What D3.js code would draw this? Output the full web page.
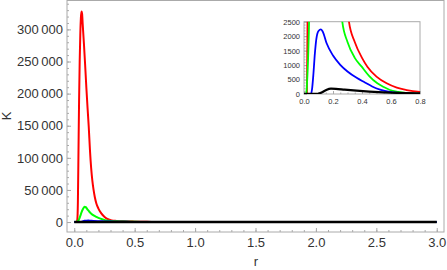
<!DOCTYPE html>
<html>
<head>
<meta charset="utf-8">
<script src="https://cdn.jsdelivr.net/npm/d3@7"></script>
<style>
  body { margin: 0; background: #fff; }
  svg { display: block; font-family: "Liberation Sans", Arial, sans-serif; }
  .axis path, .axis line { stroke: #aaa; }
  .axis text { fill: #333; }
</style>
</head>
<body>
<svg id="chart" width="447" height="270"></svg>
<script>
// r values and K values, one pair of arrays per curve
const redR   = [0, 0.02, 0.025, 0.03, 0.035, 0.04, 0.045, 0.05, 0.055, 0.06, 0.065, 0.07, 0.08, 0.09, 0.1, 0.11, 0.12, 0.13, 0.14, 0.15, 0.16, 0.17, 0.183, 0.2, 0.224, 0.245, 0.266, 0.29, 0.31, 0.35, 0.4, 0.437, 0.5, 0.57, 0.64, 0.708, 0.8, 0.9, 1.0, 1.2, 1.5, 2.0, 3.0];
const redK   = [0, 0, 3000, 30000, 110000, 190000, 250000, 292000, 318000, 328000, 324000, 308000, 278000, 245000, 210000, 178000, 148000, 112000, 84000, 64000, 50000, 39000, 29000, 21000, 13500, 9000, 5700, 3700, 2500, 1800, 1250, 945, 600, 369, 220, 138, 69, 35, 18, 5, 1, 0, 0];

const greenR = [0, 0.015, 0.02, 0.03, 0.035, 0.04, 0.05, 0.06, 0.07, 0.08, 0.086, 0.095, 0.11, 0.125, 0.141, 0.16, 0.183, 0.2, 0.238, 0.264, 0.3, 0.35, 0.398, 0.45, 0.506, 0.55, 0.593, 0.65, 0.7, 0.8, 1.0, 1.5, 3.0];
const greenK = [0, 0, 300, 1500, 2500, 4500, 9500, 15000, 19500, 22800, 23800, 23200, 19500, 16000, 13000, 10300, 8000, 6500, 3900, 2500, 1800, 1250, 945, 620, 369, 240, 138, 75, 40, 12, 2, 0, 0];

const blueR  = [0, 0.048, 0.055, 0.065, 0.075, 0.085, 0.1, 0.117, 0.13, 0.156, 0.2, 0.25, 0.3, 0.363, 0.42, 0.47, 0.524, 0.6, 0.7, 0.8, 1.0, 3.0];
const blueK  = [0, 0, 150, 700, 1400, 1900, 2180, 2237, 2150, 1753, 1330, 1010, 780, 560, 400, 260, 150, 65, 22, 6, 0, 0];

const blackR = [0, 0.09, 0.1, 0.12, 0.15, 0.186, 0.22, 0.28, 0.363, 0.45, 0.547, 0.65, 0.8, 1.0, 1.5, 2.0, 3.0];
const blackK = [0, 0, 10, 50, 130, 184, 178, 150, 115, 85, 58, 38, 23, 12, 3, 1, 0];

const seriesColors = ['#ff0000', '#00ff00', '#0000ff', '#000000'];

// tick labels
const mainXTicks = [0, 0.5, 1.0, 1.5, 2.0, 2.5, 3.0];
const mainXLabels = ['0.0', '0.5', '1.0', '1.5', '2.0', '2.5', '3.0'];
const mainYTicks = [0, 50000, 100000, 150000, 200000, 250000, 300000];
const mainYLabels = ['0', '50\u2009000', '100\u2009000', '150\u2009000', '200\u2009000', '250\u2009000', '300\u2009000'];
const insetXTicks = [0, 0.2, 0.4, 0.6, 0.8];
const insetXLabels = ['0.0', '0.2', '0.4', '0.6', '0.8'];
const insetYTicks = [0, 500, 1000, 1500, 2000, 2500];
const insetYLabels = ['0', '500', '1000', '1500', '2000', '2500'];

const series = [
    { r: redR, k: redK },
    { r: greenR, k: greenK },
    { r: blueR, k: blueK },
    { r: blackR, k: blackK }
];

const svg = d3.select('#chart');

/**
 * Draws one framed panel (main plot or the inset).
 */
function drawPanel(opts) {
    const x = d3.scaleLinear().domain(opts.xDomain).range([opts.left, opts.right]);
    const y = d3.scaleLinear().domain(opts.yDomain).range([opts.bottom, opts.top]);
    const g = svg.append('g');

    g.append('rect')
        .attr('x', opts.left).attr('y', opts.top)
        .attr('width', opts.right - opts.left).attr('height', opts.bottom - opts.top)
        .attr('fill', '#fff');

    const clipId = 'clip-' + opts.name;
    g.append('clipPath').attr('id', clipId)
        .append('rect')
        .attr('x', opts.left).attr('y', opts.top)
        .attr('width', opts.right - opts.left).attr('height', opts.bottom - opts.top);

    // minor ticks (no labels)
    g.append('g').attr('class', 'axis')
        .attr('transform', `translate(0,${opts.bottom})`)
        .call(d3.axisBottom(x).tickValues(opts.xMinor).tickSize(-opts.minorLen).tickFormat(''))
        .call(s => s.select('.domain').remove());
    g.append('g').attr('class', 'axis')
        .attr('transform', `translate(${opts.left},0)`)
        .call(d3.axisLeft(y).tickValues(opts.yMinor).tickSize(-opts.minorLen).tickFormat(''))
        .call(s => s.select('.domain').remove());

    // major ticks with labels
    const xAxis = g.append('g').attr('class', 'axis')
        .attr('transform', `translate(0,${opts.bottom})`)
        .call(d3.axisBottom(x).tickValues(opts.xTicks).tickSize(-opts.majorLen)
            .tickPadding(opts.xPad).tickFormat((d, i) => opts.xLabels[i]));
    xAxis.select('.domain').remove();
    xAxis.selectAll('text').attr('font-size', opts.fontSize).attr('font-family', null);

    const yAxis = g.append('g').attr('class', 'axis')
        .attr('transform', `translate(${opts.left},0)`)
        .call(d3.axisLeft(y).tickValues(opts.yTicks).tickSize(-opts.majorLen)
            .tickPadding(opts.yPad).tickFormat((d, i) => opts.yLabels[i]));
    yAxis.select('.domain').remove();
    yAxis.selectAll('text').attr('font-size', opts.fontSize).attr('font-family', null);

    // frame
    g.append('rect')
        .attr('x', opts.left).attr('y', opts.top)
        .attr('width', opts.right - opts.left).attr('height', opts.bottom - opts.top)
        .attr('fill', 'none').attr('stroke', '#aaa').attr('stroke-width', 1);

    const line = d3.line()
        .x(d => x(d[0]))
        .y(d => y(d[1]))
        .curve(d3.curveMonotoneX);

    const curves = g.append('g').attr('clip-path', `url(#${clipId})`);
    series.forEach((s, i) => {
        const pts = s.r.map((r, j) => [r, s.k[j]]);
        curves.append('path')
            .datum(pts)
            .attr('d', line)
            .attr('fill', 'none')
            .attr('stroke', seriesColors[i])
            .attr('stroke-width', i === 3 ? opts.lineWidth + 0.5 : opts.lineWidth)
            .attr('stroke-linejoin', 'round');
    });
    return { x, y };
}

// main plot
drawPanel({
    name: 'main',
    left: 67, right: 444, top: 0.5, bottom: 232,
    xDomain: [-0.06, 3.06], yDomain: [-15500, 345000],
    xTicks: mainXTicks, xLabels: mainXLabels,
    yTicks: mainYTicks, yLabels: mainYLabels,
    xMinor: d3.range(0, 3.01, 0.1), yMinor: d3.range(0, 340001, 10000),
    majorLen: 4, minorLen: 2, xPad: 6, yPad: 4,
    fontSize: 13, lineWidth: 2
});

// inset
drawPanel({
    name: 'inset',
    left: 304, right: 420, top: 21.7, bottom: 94,
    xDomain: [0, 0.8], yDomain: [0, 2500],
    xTicks: insetXTicks, xLabels: insetXLabels,
    yTicks: insetYTicks, yLabels: insetYLabels,
    xMinor: d3.range(0, 0.801, 0.05), yMinor: d3.range(0, 2501, 100),
    majorLen: 3, minorLen: 1.5, xPad: 5, yPad: 4,
    fontSize: 7.5, lineWidth: 1.8
});

// axis titles
svg.append('text')
    .attr('x', 256).attr('y', 266)
    .attr('text-anchor', 'middle')
    .attr('font-size', 13).attr('fill', '#333')
    .text('r');

svg.append('text')
    .attr('transform', 'translate(11,116) rotate(-90)')
    .attr('text-anchor', 'middle')
    .attr('font-size', 13).attr('fill', '#333')
    .text('K');
</script>
</body>
</html>
